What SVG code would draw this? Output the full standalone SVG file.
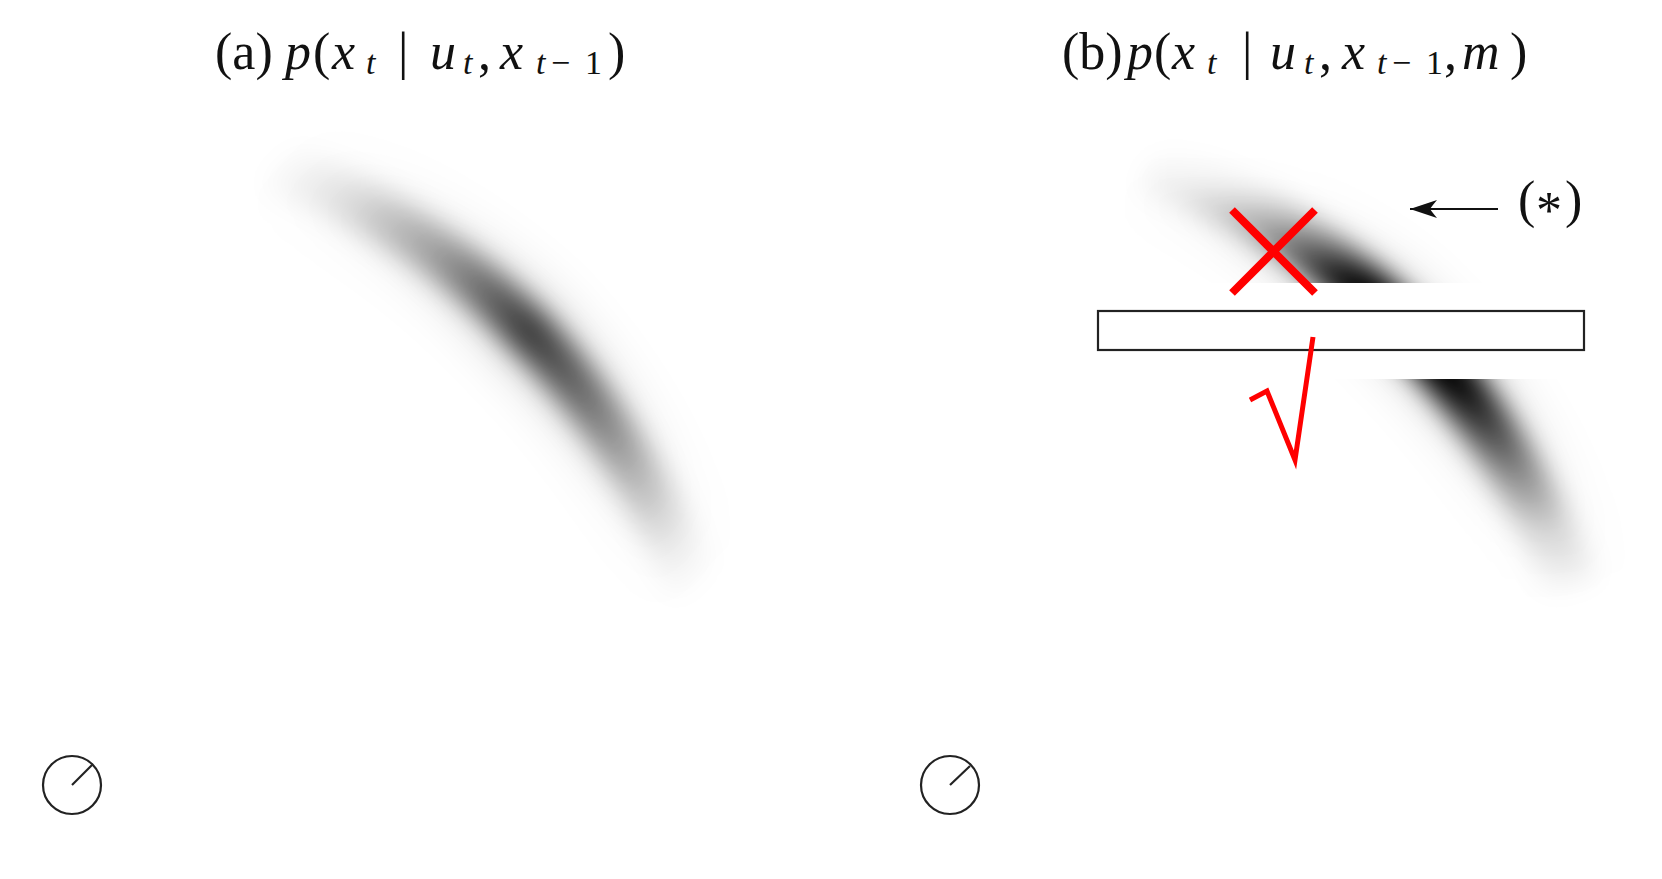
<svg xmlns="http://www.w3.org/2000/svg" width="1662" height="879" viewBox="0 0 1662 879">
<defs>
<style>
.lbl{fill:#111}
.big{font-size:52px}
.ital{font-style:italic}
.sub{font-size:34px}
.clock{fill:none;stroke:#222;stroke-width:2.2}
.red{fill:none;stroke:#ff0000;stroke-linejoin:miter}
.conn{fill:none;stroke:#111;stroke-width:2}
</style>
<filter id="blur" x="-40%" y="-40%" width="180%" height="180%"><feGaussianBlur stdDeviation="13"/></filter>
<filter id="blurH" x="-40%" y="-40%" width="180%" height="180%"><feGaussianBlur stdDeviation="20"/></filter>
<linearGradient id="ga" gradientUnits="userSpaceOnUse" x1="270" y1="165" x2="695" y2="590">
<stop offset="0" stop-color="#000" stop-opacity="0.0"/>
<stop offset="0.12" stop-color="#000" stop-opacity="0.1"/>
<stop offset="0.3" stop-color="#000" stop-opacity="0.35"/>
<stop offset="0.5" stop-color="#000" stop-opacity="0.74"/>
<stop offset="0.65" stop-color="#000" stop-opacity="0.52"/>
<stop offset="0.8" stop-color="#000" stop-opacity="0.26"/>
<stop offset="0.92" stop-color="#000" stop-opacity="0.07"/>
<stop offset="1" stop-color="#000" stop-opacity="0.0"/>
</linearGradient>
<linearGradient id="gb" gradientUnits="userSpaceOnUse" x1="0" y1="150" x2="0" y2="610">
<stop offset="0" stop-color="#000" stop-opacity="0"/>
<stop offset="0.087" stop-color="#000" stop-opacity="0.06"/>
<stop offset="0.174" stop-color="#000" stop-opacity="0.35"/>
<stop offset="0.239" stop-color="#000" stop-opacity="0.7"/>
<stop offset="0.289" stop-color="#000" stop-opacity="1"/>
<stop offset="0.498" stop-color="#000" stop-opacity="1"/>
<stop offset="0.587" stop-color="#000" stop-opacity="0.75"/>
<stop offset="0.696" stop-color="#000" stop-opacity="0.45"/>
<stop offset="0.826" stop-color="#000" stop-opacity="0.15"/>
<stop offset="0.978" stop-color="#000" stop-opacity="0.0"/>
</linearGradient>
<clipPath id="gap"><rect x="1040" y="100" width="620" height="183"/><rect x="1040" y="379" width="620" height="300"/></clipPath>
<marker id="ah" viewBox="-28 -10 30 20" refX="0" refY="0" markerWidth="30" markerHeight="20" markerUnits="userSpaceOnUse" orient="auto">
<path d="M0,0 L-27,-9 Q-22,-3 -20,0 Q-22,3 -27,9 Z" fill="#111"/>
</marker>
</defs>
<rect width="1662" height="879" fill="#fff"/>

<g id="title-a">
<text class="lbl" style="font-family:'Liberation Serif',serif;font-size:52px" x="215" y="69">(a)</text>
<text class="lbl" style="font-family:'Liberation Serif',serif;font-size:52px;font-style:italic" x="285" y="69">p</text>
<text class="lbl" style="font-family:'Liberation Serif',serif;font-size:52px" x="313" y="69">(</text>
<text class="lbl" style="font-family:'Liberation Serif',serif;font-size:52px;font-style:italic" x="332" y="69">x</text>
<text class="lbl" style="font-family:'Liberation Serif',serif;font-size:34px;font-style:italic" x="366" y="74">t</text>
<text class="lbl" style="font-family:'Liberation Serif',serif;font-size:52px" x="398" y="69">|</text>
<text class="lbl" style="font-family:'Liberation Serif',serif;font-size:52px;font-style:italic" x="430" y="69">u</text>
<text class="lbl" style="font-family:'Liberation Serif',serif;font-size:34px;font-style:italic" x="463" y="74">t</text>
<text class="lbl" style="font-family:'Liberation Serif',serif;font-size:52px" x="478" y="69">,</text>
<text class="lbl" style="font-family:'Liberation Serif',serif;font-size:52px;font-style:italic" x="500" y="69">x</text>
<text class="lbl" style="font-family:'Liberation Serif',serif;font-size:34px;font-style:italic" x="536" y="74">t</text>
<text class="lbl" style="font-family:'Liberation Serif',serif;font-size:34px" x="551" y="74">−</text>
<text class="lbl" style="font-family:'Liberation Serif',serif;font-size:34px" x="585" y="74">1</text>
<text class="lbl" style="font-family:'Liberation Serif',serif;font-size:52px" x="608" y="69">)</text>
</g>

<g id="title-b">
<text class="lbl" style="font-family:'Liberation Serif',serif;font-size:52px" x="1062" y="69">(b)</text>
<text class="lbl" style="font-family:'Liberation Serif',serif;font-size:52px;font-style:italic" x="1127" y="69">p</text>
<text class="lbl" style="font-family:'Liberation Serif',serif;font-size:52px" x="1154" y="69">(</text>
<text class="lbl" style="font-family:'Liberation Serif',serif;font-size:52px;font-style:italic" x="1172" y="69">x</text>
<text class="lbl" style="font-family:'Liberation Serif',serif;font-size:34px;font-style:italic" x="1207" y="74">t</text>
<text class="lbl" style="font-family:'Liberation Serif',serif;font-size:52px" x="1242" y="69">|</text>
<text class="lbl" style="font-family:'Liberation Serif',serif;font-size:52px;font-style:italic" x="1270" y="69">u</text>
<text class="lbl" style="font-family:'Liberation Serif',serif;font-size:34px;font-style:italic" x="1304" y="74">t</text>
<text class="lbl" style="font-family:'Liberation Serif',serif;font-size:52px" x="1319" y="69">,</text>
<text class="lbl" style="font-family:'Liberation Serif',serif;font-size:52px;font-style:italic" x="1342" y="69">x</text>
<text class="lbl" style="font-family:'Liberation Serif',serif;font-size:34px;font-style:italic" x="1377" y="74">t</text>
<text class="lbl" style="font-family:'Liberation Serif',serif;font-size:34px" x="1392" y="74">−</text>
<text class="lbl" style="font-family:'Liberation Serif',serif;font-size:34px" x="1426" y="74">1</text>
<text class="lbl" style="font-family:'Liberation Serif',serif;font-size:52px" x="1444" y="69">,</text>
<text class="lbl" style="font-family:'Liberation Serif',serif;font-size:52px;font-style:italic" x="1462" y="69">m</text>
<text class="lbl" style="font-family:'Liberation Serif',serif;font-size:52px" x="1510" y="69">)</text>
</g>

<g id="belief-a">
<path d="M270,165 Q560,270 695,590" fill="none" stroke="url(#ga)" stroke-opacity="0.14" stroke-width="95" filter="url(#blurH)"/>
<path d="M270,165 Q560,270 695,590" fill="none" stroke="url(#ga)" stroke-width="48" filter="url(#blur)"/>
</g>

<g id="belief-b" clip-path="url(#gap)">
<g>
<path d="M1150,165 Q1440,270 1572,585" fill="none" stroke="url(#gb)" stroke-opacity="0.1" stroke-width="95" filter="url(#blurH)"/>
<path d="M1150,165 Q1440,270 1572,585" fill="none" stroke="url(#gb)" stroke-width="50" filter="url(#blur)"/>
</g>
</g>

<g id="wall">
<rect x="1098" y="311" width="486" height="39" fill="#fff" stroke="#222" stroke-width="2.2"/>
</g>

<g id="cross">
<path class="red" d="M1232,210 L1315,293 M1315,210 L1232,293" stroke-width="8"/>
</g>

<g id="check">
<path class="red" d="M1250,400 L1267,391 L1295,460 L1313,337" stroke-width="5"/>
</g>

<g id="label-star">
<text class="lbl" style="font-family:'Liberation Serif',serif;font-size:52px" x="1518" y="217">(</text>
<text class="lbl" style="font-family:'Liberation Serif',serif;font-size:52px" x="1536" y="228">*</text>
<text class="lbl" style="font-family:'Liberation Serif',serif;font-size:52px" x="1565" y="217">)</text>
</g>

<g id="connectors">
<line class="conn" x1="1498" y1="209" x2="1410" y2="209" marker-end="url(#ah)"/>
</g>

<g id="clock-a">
<circle class="clock" cx="72" cy="785" r="29"/>
<line class="clock" x1="72" y1="785" x2="92" y2="765"/>
</g>

<g id="clock-b">
<circle class="clock" cx="950" cy="785" r="29"/>
<line class="clock" x1="950" y1="785" x2="970" y2="766"/>
</g>
</svg>
